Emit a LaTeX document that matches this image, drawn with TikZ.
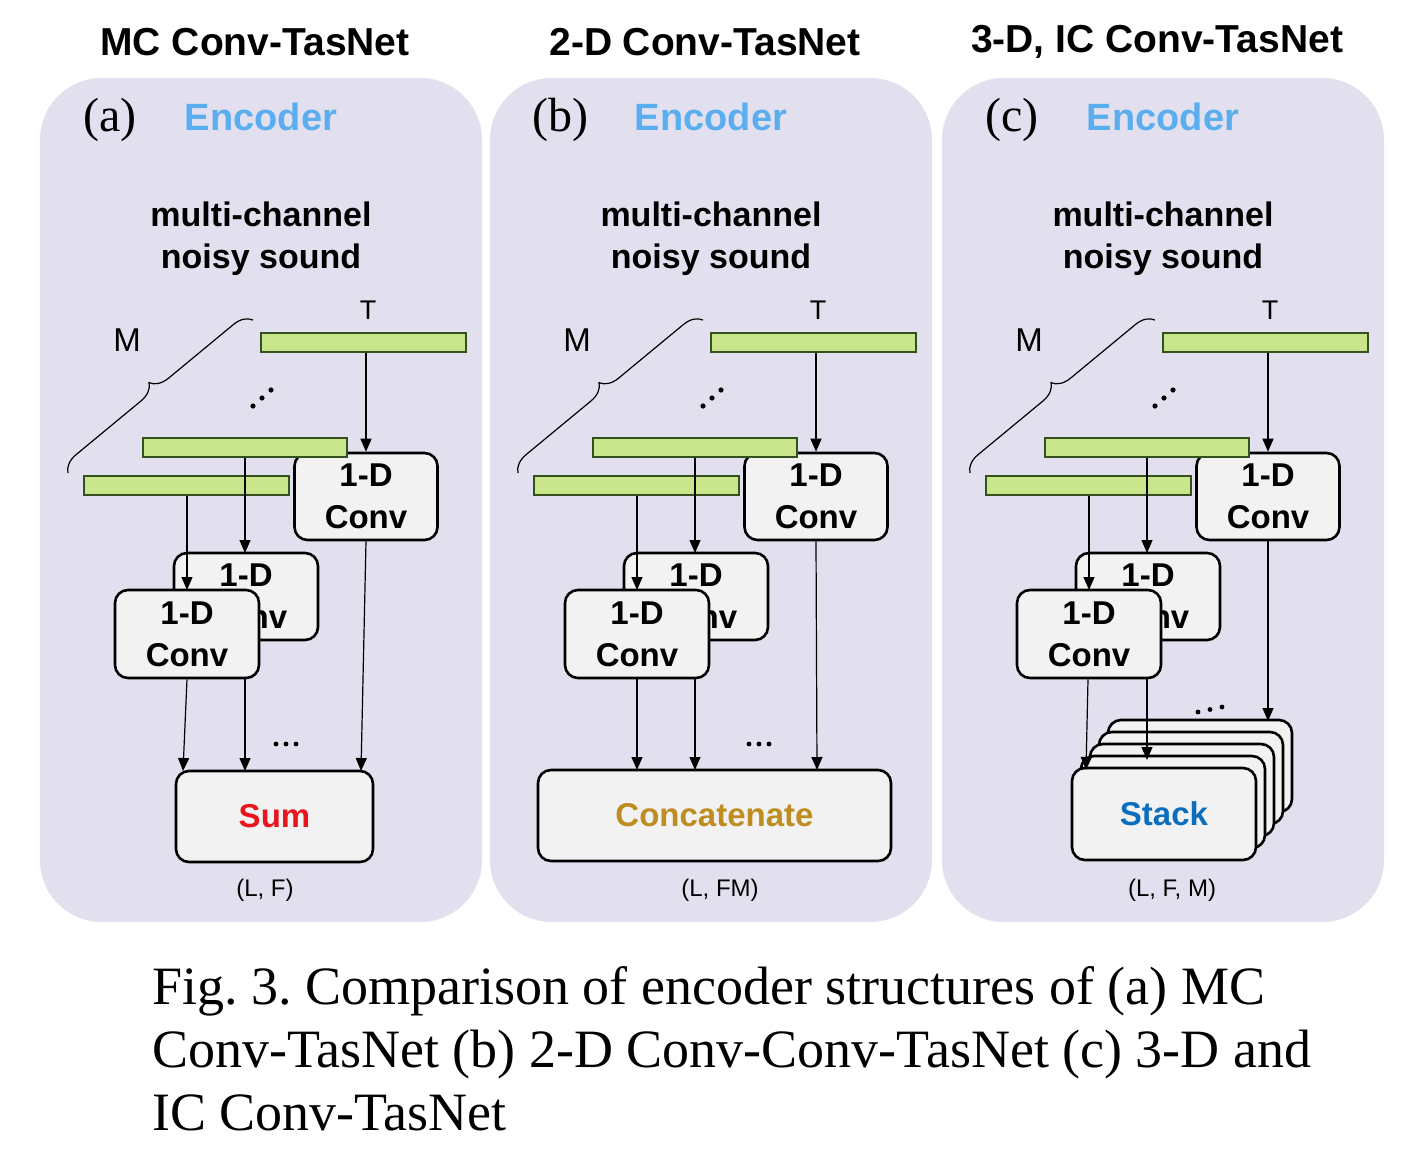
\documentclass[tikz,border=0pt]{standalone}
\usepackage{fontspec}
\setmainfont{Liberation Sans}
\newfontfamily\capfont{Liberation Serif}
\usetikzlibrary{decorations.pathreplacing,arrows.meta}
\definecolor{panelbg}{HTML}{E2E0EE}
\definecolor{barg}{HTML}{C9E58B}
\definecolor{bard}{HTML}{34501C}
\definecolor{enc}{HTML}{5AAEF0}
\definecolor{boxf}{HTML}{F2F2F2}
\definecolor{sumc}{HTML}{E8141E}
\definecolor{catc}{HTML}{BF8C20}
\definecolor{stkc}{HTML}{0A6EBD}
\tikzset{
 panel/.style={fill=panelbg,draw=none,rounded corners=62pt},
 bar/.style={fill=barg,draw=bard,line width=2.2pt},
 conv/.style={fill=boxf,draw=black,line width=2.6pt,rounded corners=13pt,inner sep=0pt,align=center,font=\fontsize{33}{42}\selectfont\bfseries},
 outbox/.style={fill=boxf,draw=black,line width=2.6pt,rounded corners=13pt},
 arr/.style={line width=1.2pt,-{Triangle[length=13pt,width=11pt]}},
 ln/.style={line width=1.2pt},
}
\newcommand{\mkpanel}[4]{% #1 offset, #2 letter, #3 prefix, #4 title
 \begin{scope}[xshift=#1pt]
 \fill[panel] (40,78) rectangle (482,922);
 \node[font=\fontsize{39}{44}\selectfont\bfseries] (#3t) at (255,42) {#4};
 \node[font=\capfont\fontsize{48}{50}\selectfont] (#3l) at (110,120) {(#2)};
 \node[font=\fontsize{38}{40}\selectfont\bfseries,text=enc] (#3e) at (261,117) {Encoder};
 \node[font=\fontsize{34}{42}\selectfont\bfseries,align=center] (#3m) at (261,239) {multi-channel\\noisy sound};
 \node[font=\fontsize{27}{30}\selectfont] (#3T) at (368,310) {T};
 \node[font=\fontsize{33}{33}\selectfont] (#3M) at (127,340) {M};
 \draw[ln,decorate,decoration={brace,amplitude=18pt}] (68,473) -- (253,320);
 \foreach \i in {0,1,2}{\fill (253+\i*9,406-\i*8) circle (2.6pt);}
 \node[bar,minimum width=205pt,minimum height=19pt,inner sep=0pt] (#3b1) at (363.5,342.5) {};
 \node[conv,minimum width=143pt,minimum height=87pt] (#3c1) at (366,496.5) {1-D\\Conv};
 \node[bar,minimum width=204pt,minimum height=19pt,inner sep=0pt] (#3b2) at (245,447.5) {};
 \node[bar,minimum width=205pt,minimum height=19pt,inner sep=0pt] (#3b3) at (186.5,485.5) {};
 \node[conv,minimum width=144pt,minimum height=87pt] (#3c2) at (246,596.5) {1-D\\Conv};
 \draw[arr] (#3b1.south -| #3c1.north) -- (#3c1.north);
 \draw[arr] (#3b2.south -| 245,0) -- (245,553);
 \draw[arr] (#3b3.south -| 187,0) -- (187,590);
 \node[conv,minimum width=144pt,minimum height=88pt] (#3c3) at (187,634) {1-D\\Conv};
 \end{scope}}
\begin{document}
\begin{tikzpicture}[x=1pt,y=-1pt]
\useasboundingbox (0,0) rectangle (1418,1164);
\fill[white] (0,0) rectangle (1418,1164);
\mkpanel{0}{a}{a}{MC Conv-TasNet}
\mkpanel{450}{b}{b}{2-D Conv-TasNet}
\mkpanel{902}{c}{c}{3-D, IC Conv-TasNet}
% (a)
\node[outbox,minimum width=197pt,minimum height=91pt,text=sumc,font=\fontsize{33}{36}\selectfont\bfseries] (sum) at (274.5,816.5) {Sum};
\draw[arr] (ac3.south -| 187,0) -- (183,771);
\draw[arr] (245,678) -- (245,771);
\draw[arr] (ac1.south) -- (361,771);
\foreach \i in {0,1,2}{\fill (276+\i*10,744) circle (2.4pt);}
\node[font=\fontsize{24}{26}\selectfont] (al) at (265,890) {(L, F)};
% (b)
\node[outbox,minimum width=353pt,minimum height=91pt,text=catc,font=\fontsize{33}{36}\selectfont\bfseries] (cat) at (714.5,815.5) {Concatenate};
\draw[arr] (bc3.south -| 637,0) -- (637,770);
\draw[arr] (695,678) -- (695,770);
\draw[arr] (bc1.south) -- (817,770);
\foreach \i in {0,1,2}{\fill (749+\i*10,744) circle (2.4pt);}
\node[font=\fontsize{24}{26}\selectfont] (bl) at (720,890) {(L, FM)};
% (c)
\foreach \k in {4,3,2,1}{
 \node[outbox,minimum width=184pt,minimum height=92pt] (s\k) at (1164+\k*9,814-\k*12) {};}
\node[outbox,minimum width=184pt,minimum height=92pt,text=stkc,font=\fontsize{33}{36}\selectfont\bfseries] (stk) at (1164,814) {Stack};
\draw[arr] (cc3.south -| 1088,0) -- (1086,770);
\draw[arr] (1147,678) -- (1147,760);
\draw[arr] (cc1.south) -- (1268,721);
\foreach \i in {0,1,2}{\fill (1198+\i*12,712-\i*2.5) circle (2.4pt);}
\node[font=\fontsize{24}{26}\selectfont] (cl) at (1172,890) {(L, F, M)};
% caption
\node[anchor=north west,align=left,font=\capfont\fontsize{54}{63}\selectfont,inner sep=0pt] (cap) at (152,966) {\frenchspacing Fig. 3. Comparison of encoder structures of (a) MC\\Conv-TasNet (b) 2-D Conv-Conv-TasNet (c) 3-D and\\IC Conv-TasNet};
\end{tikzpicture}
\end{document}
